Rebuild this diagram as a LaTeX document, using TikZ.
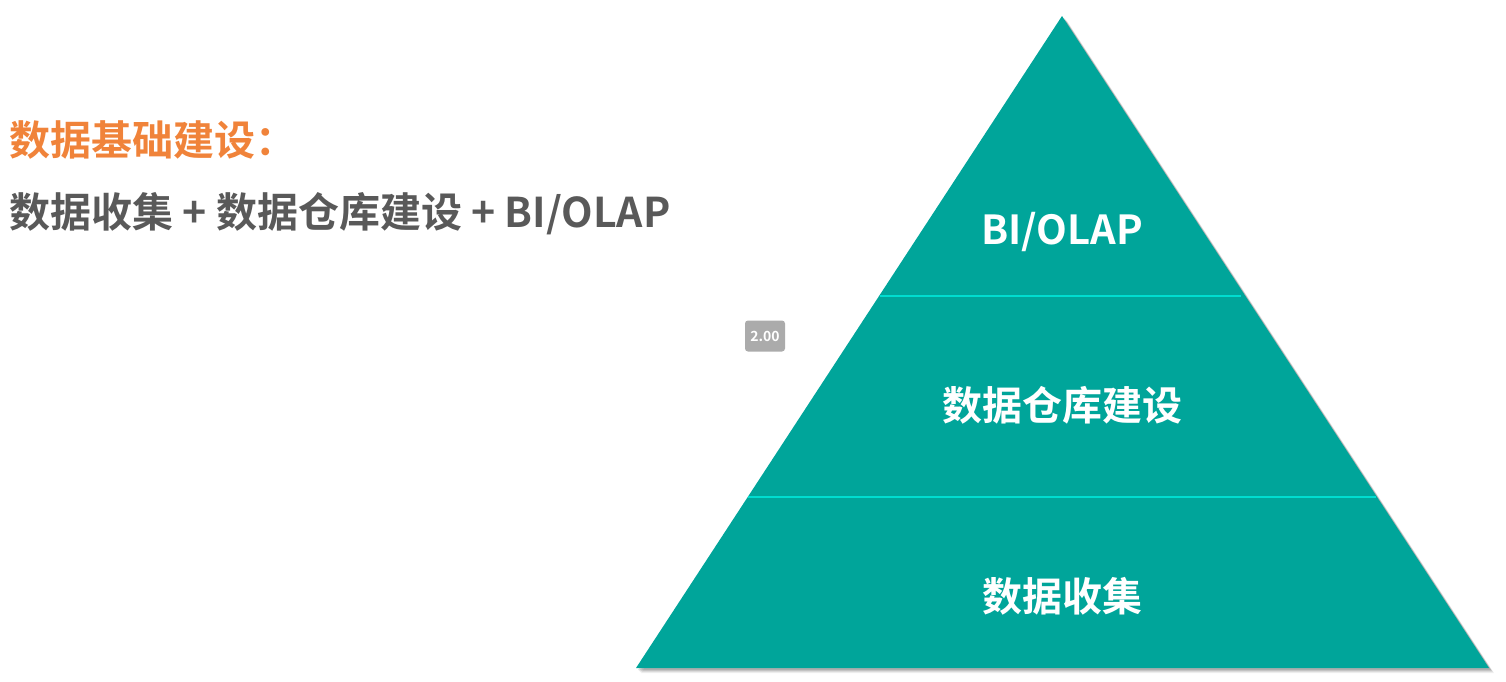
\documentclass[tikz,border=0pt]{standalone}
\usepackage{fontspec}
\newfontfamily\cjkb{Noto Sans CJK SC Bold}
\definecolor{teal1}{HTML}{00A59A}
\definecolor{lineC}{HTML}{00DDD0}
\definecolor{orangeT}{HTML}{F0833A}
\definecolor{grayT}{HTML}{595959}
\definecolor{badge}{HTML}{ABABAB}
\begin{document}
\begin{tikzpicture}[x=1pt,y=-1pt,
  lbl/.style={text=white,font=\cjkb\fontsize{40}{48}\selectfont,inner sep=0pt,anchor=center},
  divider/.style={draw=lineC,line width=2.4pt}]
\useasboundingbox (0,0) rectangle (1506,681);
% shadow
\foreach \o/\a in {5/0.06,4/0.08,3/0.1,2/0.12}{
  \fill[black,opacity=\a] (1062+\o,16+\o) -- (1489+\o,668+\o) -- (636+\o,668+\o) -- cycle;}
% triangle
\fill[teal1] (1062,16) coordinate (apex) -- (1489,668) coordinate (br) -- (636,668) coordinate (bl) -- cycle;
\coordinate (d1l) at (880,296); \coordinate (d1r) at (1241,296);
\coordinate (d2l) at (748,497); \coordinate (d2r) at (1376,497);
\draw[divider] (d1l) -- (d1r);
\draw[divider] (d2l) -- (d2r);
\node[lbl] (top) at (1062,232) {BI/OLAP};
\node[lbl] (mid) at (1062,405) {数据仓库建设};
\node[lbl] (bot) at (1062,596) {数据收集};
% badge
\node[fill=badge,rounded corners=3pt,minimum width=40pt,minimum height=31pt,inner sep=0pt,text=white,font=\cjkb\fontsize{14}{16}\selectfont] (badge) at (765,336) {2.00};
% left text
\node[anchor=west,inner sep=0pt,text=orangeT,font=\cjkb\fontsize{41}{48}\selectfont] (h1) at (9,140) {数据基础建设：};
\node[anchor=west,inner sep=0pt,text=grayT,font=\cjkb\fontsize{41}{48}\selectfont] (h2) at (9,214) {数据收集 + 数据仓库建设 + BI/OLAP};
\end{tikzpicture}
\end{document}
